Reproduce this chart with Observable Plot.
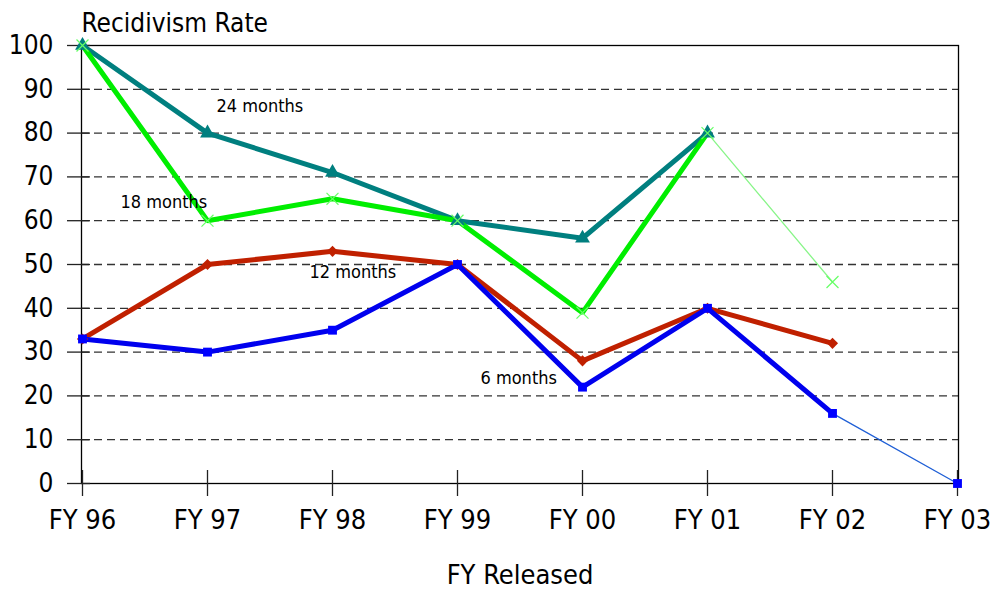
<!DOCTYPE html>
<html>
<head>
<meta charset="utf-8">
<script src="https://cdn.jsdelivr.net/npm/d3@7"></script>
<script src="https://cdn.jsdelivr.net/npm/@observablehq/plot@0.6"></script>
<style>
  html, body { margin: 0; padding: 0; background: #fff; }
  #chart svg { font-family: "DejaVu Sans Condensed", "DejaVu Sans", sans-serif; font-stretch: condensed; }
</style>
</head>
<body>
<div id="chart"></div>
<script>
const years = ["FY 96", "FY 97", "FY 98", "FY 99", "FY 00", "FY 01", "FY 02", "FY 03"];
const months24 = [100, 80, 71, 60, 56, 80, null, null];
const months18 = [100, 60, 65, 60, 39, 80, 46, null];
const months12 = [33, 50, 53, 50, 28, 40, 32, null];
const months6 = [33, 30, 35, 50, 22, 40, 16, 0];
const yTicks = [0, 10, 20, 30, 40, 50, 60, 70, 80, 90, 100];
const gridTicks = [10, 20, 30, 40, 50, 60, 70, 80, 90];

// series: last index of the thick (solid) part of the line
const series = [
  {name: "24 months", values: months24, solidEnd: 5, color: "#007f7f", tail: "#007f7f", symbol: "triangle", mark: "#007f7f"},
  {name: "18 months", values: months18, solidEnd: 5, color: "#00ee00", tail: "#88f588", symbol: "times", mark: "#66ff66"},
  {name: "12 months", values: months12, solidEnd: 6, color: "#c02000", tail: "#c02000", symbol: "diamond2", mark: "#c02000"},
  {name: "6 months", values: months6, solidEnd: 6, color: "#0000ee", tail: "#1f5fd6", symbol: "square", mark: "#0000ff"}
];

const labels = [
  {text: "24 months", x: "FY 97", y: 86.1, dx: 9},
  {text: "18 months", x: "FY 96", y: 64.2, dx: 38},
  {text: "12 months", x: "FY 98", y: 48.2, dx: -23},
  {text: "6 months", x: "FY 99", y: 24, dx: 23}
];

const rows = [];
for (const s of series) {
  s.values.forEach((v, i) => {
    if (v != null) rows.push({series: s.name, year: years[i], value: v, i, s});
  });
}

const marks = [
  Plot.ruleY(gridTicks, {stroke: "#333", strokeWidth: 1.3, strokeDasharray: "8,5"}),
];
for (const s of series) {
  const r = rows.filter(d => d.s === s);
  marks.push(Plot.line(r.filter(d => d.i >= s.solidEnd), {x: "year", y: "value", stroke: s.tail, strokeWidth: 1.3}));
}
for (const s of series) {
  const r = rows.filter(d => d.s === s);
  marks.push(Plot.line(r.filter(d => d.i <= s.solidEnd), {x: "year", y: "value", stroke: s.color, strokeWidth: 5, strokeLinejoin: "miter"}));
}
marks.push(
  Plot.frame({stroke: "#000", strokeWidth: 1.3}),
  Plot.axisY(yTicks, {tickSize: 14, tickPadding: 14, fontSize: 26, stroke: "#222", strokeWidth: 1.3, color: "#000"}),
  Plot.axisY(yTicks, {tickSize: -9, text: null, stroke: "#222", strokeWidth: 1.3}),
  Plot.axisX({tickSize: 13, tickPadding: 13, fontSize: 27, stroke: "#222", strokeWidth: 1.3, color: "#000"}),
  Plot.axisX({tickSize: -13, text: null, stroke: "#222", strokeWidth: 1.3})
);
for (const s of series) {
  const r = rows.filter(d => d.s === s);
  if (s.symbol === "times") {
    marks.push(Plot.dot(r, {x: "year", y: "value", symbol: "times", r: 5.5, stroke: s.mark, strokeWidth: 1.2, fill: "none"}));
  } else {
    marks.push(Plot.dot(r, {x: "year", y: "value", symbol: s.symbol, r: s.symbol === "triangle" ? 5.5 : 5, fill: s.mark, stroke: "none"}));
  }
}
for (const l of labels) {
  marks.push(Plot.text([l], {x: "x", y: "y", text: "text", dx: l.dx, textAnchor: "start", fontSize: 18, fill: "#000"}));
}
marks.push(
  Plot.text(["Recidivism Rate"], {frameAnchor: "top-left", lineAnchor: "middle", dy: -22, textAnchor: "start", fontSize: 26, fill: "#000"}),
  Plot.text(["FY Released"], {frameAnchor: "bottom", lineAnchor: "middle", dy: 92, fontSize: 27, fill: "#000"})
);

const chart = Plot.plot({
  width: 995,
  height: 589,
  marginLeft: 81,
  marginRight: 37,
  marginTop: 45,
  marginBottom: 106,
  x: {type: "point", domain: years, padding: 0, axis: null},
  y: {domain: [0, 100], axis: null},
  style: {fontFamily: "'DejaVu Sans Condensed', 'DejaVu Sans', sans-serif", background: "#fff", overflow: "visible"},
  marks
});
document.getElementById("chart").appendChild(chart);
</script>
</body>
</html>
